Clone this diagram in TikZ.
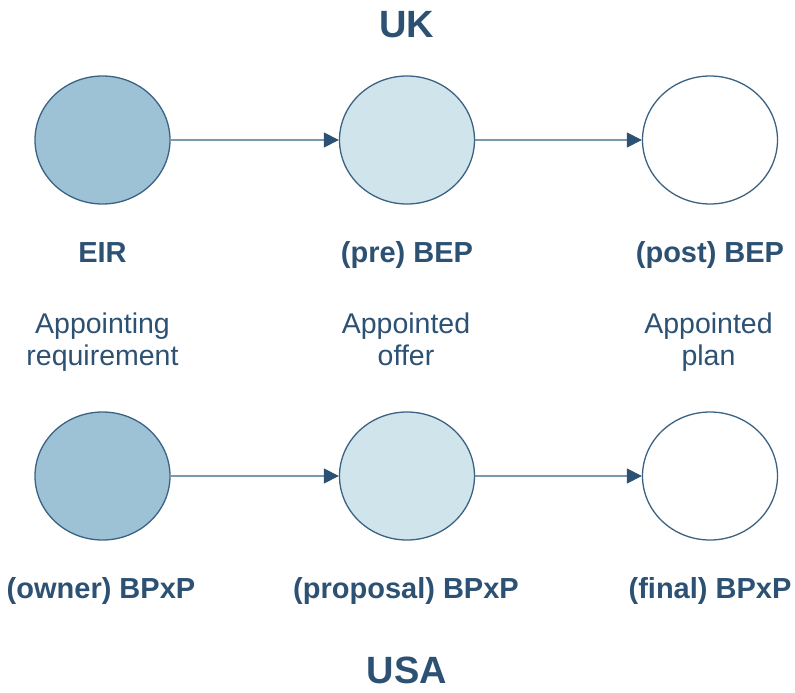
\documentclass[tikz,border=0pt]{standalone}
\usepackage{fontspec}
\setmainfont{Liberation Sans}
\usetikzlibrary{arrows.meta,shapes.geometric}
\definecolor{darkfill}{HTML}{9DC2D6}
\definecolor{lightfill}{HTML}{D0E4EC}
\definecolor{edgecol}{HTML}{3C6283}
\definecolor{txtcol}{HTML}{2C5173}
\definecolor{linecol}{HTML}{7A98AE}
\tikzset{
  stage/.style={ellipse, draw=edgecol, line width=1.3pt, minimum width=135pt, minimum height=128pt, inner sep=0pt},
  flow/.style={draw=linecol, line width=1.1pt, -{Triangle[length=15pt,width=15pt,color=txtcol]}},
  countrylbl/.style={font=\fontsize{38}{42}\selectfont\bfseries, text=txtcol, anchor=base, inner sep=0pt},
  stagelbl/.style={font=\fontsize{29}{32}\selectfont\bfseries, text=txtcol, anchor=base, inner sep=0pt},
  desclbl/.style={font=\fontsize{28.5}{32}\selectfont, text=txtcol, align=center, anchor=base, inner sep=0pt},
}
\begin{document}
\begin{tikzpicture}[x=1pt,y=-1pt]
\useasboundingbox (0,0) rectangle (795,693);
\node[countrylbl] (uk) at (407,38) {UK};
\node[stage, fill=darkfill] (a1) at (102.5,140) {};
\node[stage, fill=lightfill] (a2) at (407,140) {};
\node[stage, fill=white] (a3) at (710,140) {};
\draw[flow] (a1) -- (a2);
\draw[flow] (a2) -- (a3);
\node[stagelbl] (n1) at (102.5,262.5) {EIR};
\node[stagelbl] (n2) at (407,262.5) {(pre) BEP};
\node[stagelbl] (n3) at (710,262.5) {(post) BEP};
\node[desclbl] (d1) at (102.5,365) {Appointing\\requirement};
\node[desclbl] (d2) at (406,365) {Appointed\\offer};
\node[desclbl] (d3) at (708.5,365) {Appointed\\plan};
\node[stage, fill=darkfill] (b1) at (102.5,476) {};
\node[stage, fill=lightfill] (b2) at (407,476) {};
\node[stage, fill=white] (b3) at (710,476) {};
\draw[flow] (b1) -- (b2);
\draw[flow] (b2) -- (b3);
\node[stagelbl] (m1) at (101,598) {(owner) BPxP};
\node[stagelbl] (m2) at (406,598) {(proposal) BPxP};
\node[stagelbl] (m3) at (710,598) {(final) BPxP};
\node[countrylbl] (usa) at (407,683) {USA};
\end{tikzpicture}
\end{document}
